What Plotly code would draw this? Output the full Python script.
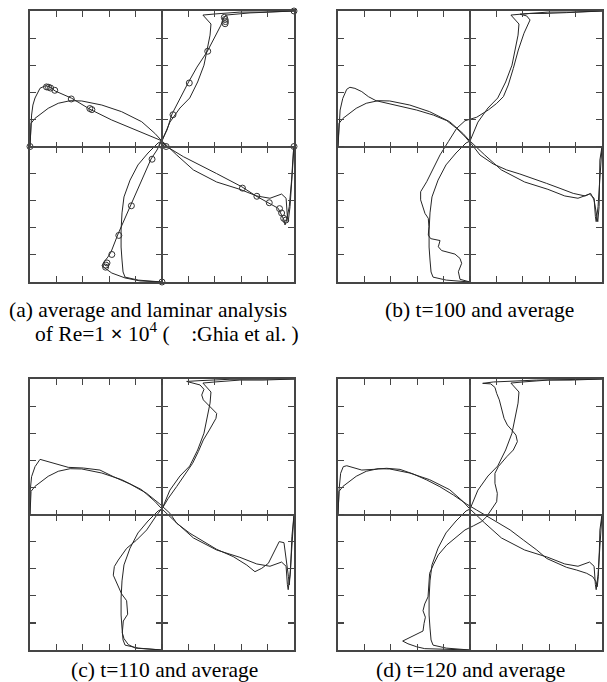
import plotly.graph_objects as go

# ---------------- data ----------------
# Ghia et al. (1982), Re = 10000
ghia_y = [1.0000, 0.9766, 0.9688, 0.9609, 0.9531, 0.8516, 0.7344, 0.6172, 0.5000,
          0.4531, 0.2813, 0.1719, 0.1016, 0.0703, 0.0625, 0.0547, 0.0000]
ghia_u = [1.0, 0.47221, 0.47783, 0.48070, 0.47804, 0.34635, 0.20673, 0.08344, 0.03111,
          -0.07540, -0.23186, -0.32709, -0.38000, -0.41657, -0.42537, -0.42735, 0.0]
ghia_x = [1.0000, 0.9688, 0.9609, 0.9531, 0.9453, 0.9063, 0.8594, 0.8047, 0.5000,
          0.2344, 0.2266, 0.1563, 0.0938, 0.0781, 0.0703, 0.0625, 0.0000]
ghia_v = [0.0, -0.54302, -0.52987, -0.49099, -0.45863, -0.41496, -0.36737, -0.30719, 0.00831,
          0.27224, 0.28003, 0.35070, 0.41487, 0.43124, 0.43733, 0.43983, 0.0]

# laminar analysis (panel a)
lam_u_y = [0, 0.004, 0.015, 0.033, 0.059, 0.074, 0.092, 0.111, 0.177, 0.236, 0.284, 0.358,
           0.454, 0.487, 0.524, 0.561, 0.62, 0.679, 0.734, 0.793, 0.849, 0.904, 0.948, 0.970,
           0.985, 0.993, 1.0]
lam_u = [0, -0.167, -0.28, -0.38, -0.455, -0.44, -0.41, -0.386, -0.333, -0.28, -0.235, -0.167,
         -0.083, -0.038, 0.0, 0.038, 0.076, 0.136, 0.197, 0.265, 0.341, 0.40, 0.447, 0.462,
         0.485, 0.667, 1.0]
lam_v_x = [0, 0.002, 0.006, 0.011, 0.019, 0.038, 0.059, 0.076, 0.095, 0.158, 0.227, 0.309,
           0.398, 0.492, 0.518, 0.581, 0.707, 0.802, 0.856, 0.897, 0.94, 0.953, 0.962, 0.966,
           0.972, 0.982, 0.991, 0.997, 1.0]
lam_v = [0, 0.085, 0.232, 0.306, 0.358, 0.43, 0.449, 0.439, 0.41, 0.356, 0.275, 0.196,
         0.122, 0.048, -0.001, -0.075, -0.2, -0.297, -0.365, -0.407, -0.456, -0.506, -0.542,
         -0.579, -0.542, -0.444, -0.247, -0.05, 0]

# time average (all panels)
avg_u_y = [0, 0.007, 0.018, 0.037, 0.081, 0.129, 0.192, 0.255, 0.314, 0.376, 0.432, 0.476,
           0.513, 0.52, 0.59, 0.642, 0.679, 0.738, 0.80, 0.856, 0.911, 0.952, 0.985, 0.989,
           0.996, 0.996, 1.0]
avg_u = [0, -0.18, -0.28, -0.295, -0.303, -0.31, -0.31, -0.303, -0.288, -0.242, -0.182, -0.106,
         -0.03, 0.0, 0.06, 0.136, 0.21, 0.27, 0.318, 0.34, 0.364, 0.371, 0.31, 0.40,
         0.59, 0.765, 1.0]
avg_v_x = [0, 0.001, 0.004, 0.019, 0.069, 0.107, 0.152, 0.196, 0.272, 0.347, 0.423, 0.473,
           0.496, 0.556, 0.619, 0.707, 0.795, 0.859, 0.909, 0.953, 0.97, 0.975, 0.978, 0.985,
           0.995, 1.0]
avg_v = [0, 0.085, 0.171, 0.208, 0.282, 0.319, 0.338, 0.336, 0.306, 0.257, 0.183, 0.097,
         0.048, -0.063, -0.173, -0.262, -0.316, -0.365, -0.382, -0.351, -0.382, -0.518, -0.555,
         -0.444, -0.149, 0]

# instantaneous t=100
b_u_y = [0, 0.010, 0.038, 0.069, 0.087, 0.103, 0.116, 0.130, 0.153, 0.160, 0.173, 0.204,
         0.235, 0.253, 0.303, 0.333, 0.370, 0.419, 0.469, 0.518, 0.567, 0.595, 0.608, 0.635,
         0.659, 0.684, 0.727, 0.788, 0.856, 0.918, 0.967, 0.982, 0.988, 0.991, 0.991, 0.994, 1.0]
b_u = [0, -0.076, -0.088, -0.063, -0.076, -0.114, -0.215, -0.24, -0.227, -0.298, -0.316, -0.311,
       -0.316, -0.341, -0.374, -0.374, -0.328, -0.278, -0.227, -0.164, -0.101, -0.038, 0.051,
       0.139, 0.202, 0.253, 0.290, 0.328, 0.366, 0.409, 0.455, 0.429, 0.379, 0.455, 0.568,
       0.732, 1.0]
b_v_x = [0, 0.001, 0.004, 0.008, 0.018, 0.033, 0.045, 0.064, 0.090, 0.115, 0.144, 0.184,
         0.235, 0.298, 0.361, 0.412, 0.449, 0.481, 0.513, 0.538, 0.588, 0.639, 0.689, 0.740,
         0.790, 0.841, 0.891, 0.936, 0.957, 0.970, 0.980, 0.984, 0.989, 0.991, 0.992, 1.0]
b_v = [0, 0.048, 0.146, 0.269, 0.355, 0.422, 0.437, 0.429, 0.405, 0.368, 0.338, 0.319,
       0.299, 0.269, 0.232, 0.191, 0.134, 0.073, 0.0, -0.063, -0.129, -0.173, -0.203, -0.235,
       -0.272, -0.309, -0.346, -0.365, -0.346, -0.395, -0.493, -0.555, -0.444, -0.198, -0.1, 0]

# instantaneous t=110
c_u_y = [0, 0.004, 0.007, 0.020, 0.042, 0.063, 0.107, 0.132, 0.182, 0.207, 0.224, 0.276,
         0.308, 0.332, 0.375, 0.406, 0.443, 0.498, 0.529, 0.560, 0.603, 0.646, 0.689, 0.732,
         0.775, 0.812, 0.855, 0.873, 0.888, 0.904, 0.923, 0.941, 0.962, 0.978, 0.986, 0.991,
         0.994, 0.999, 1.0]
c_u = [0, -0.091, -0.202, -0.255, -0.288, -0.301, -0.293, -0.260, -0.268, -0.306, -0.323, -0.369,
       -0.361, -0.331, -0.268, -0.192, -0.116, -0.040, 0.010, 0.048, 0.111, 0.174, 0.232, 0.275,
       0.313, 0.359, 0.409, 0.414, 0.384, 0.351, 0.313, 0.301, 0.318, 0.288, 0.225, 0.187,
       0.288, 0.515, 1.0]
c_v_x = [0, 0.0, 0.001, 0.006, 0.019, 0.038, 0.088, 0.145, 0.202, 0.265, 0.316, 0.379,
         0.442, 0.492, 0.530, 0.556, 0.606, 0.657, 0.707, 0.770, 0.821, 0.852, 0.878, 0.903,
         0.922, 0.944, 0.962, 0.970, 0.979, 0.982, 0.987, 0.992, 0.996, 1.0]
c_v = [0, 0.058, 0.181, 0.279, 0.353, 0.407, 0.378, 0.348, 0.343, 0.328, 0.279, 0.225,
       0.156, 0.077, 0.009, -0.065, -0.139, -0.200, -0.257, -0.311, -0.373, -0.422, -0.397,
       -0.360, -0.286, -0.200, -0.208, -0.311, -0.459, -0.520, -0.409, -0.164, -0.065, 0]

# instantaneous t=120
d_u_y = [0, 0.004, 0.005, 0.012, 0.023, 0.033, 0.049, 0.070, 0.098, 0.121, 0.145, 0.170,
         0.196, 0.246, 0.283, 0.314, 0.351, 0.387, 0.418, 0.443, 0.458, 0.474, 0.492, 0.523,
         0.547, 0.578, 0.615, 0.652, 0.677, 0.713, 0.738, 0.769, 0.793, 0.812, 0.830, 0.855,
         0.892, 0.923, 0.947, 0.969, 0.982, 0.984, 0.989, 0.993, 0.996, 1.0]
d_u = [0, -0.202, -0.343, -0.404, -0.470, -0.510, -0.442, -0.356, -0.348, -0.338, -0.356, -0.343,
       -0.318, -0.313, -0.306, -0.278, -0.240, -0.177, -0.101, -0.038, 0.025, 0.088, 0.126,
       0.172, 0.202, 0.207, 0.189, 0.189, 0.215, 0.278, 0.328, 0.359, 0.348, 0.316, 0.283,
       0.258, 0.240, 0.222, 0.202, 0.189, 0.157, 0.096, 0.177, 0.328, 0.505, 1.0]
d_v_x = [0, 0.001, 0.004, 0.010, 0.020, 0.033, 0.058, 0.090, 0.134, 0.184, 0.235, 0.285,
         0.336, 0.386, 0.437, 0.487, 0.525, 0.557, 0.601, 0.652, 0.702, 0.753, 0.790, 0.828,
         0.866, 0.904, 0.942, 0.965, 0.977, 0.982, 0.986, 0.990, 0.992, 1.0]
d_v = [0, 0.058, 0.181, 0.304, 0.353, 0.360, 0.348, 0.328, 0.333, 0.341, 0.333, 0.299,
       0.255, 0.205, 0.144, 0.077, 0.033, -0.004, -0.053, -0.114, -0.188, -0.262, -0.324,
       -0.360, -0.390, -0.410, -0.434, -0.459, -0.496, -0.533, -0.459, -0.262, -0.115, 0]

u_ticks = [-0.8, -0.6, -0.4, -0.2, 0.2, 0.4, 0.6, 0.8]
y_ticks = [0.1, 0.2, 0.3, 0.4, 0.6, 0.7, 0.8, 0.9]
y_ticks_edge = [0.1, 0.2, 0.3, 0.4, 0.5, 0.6, 0.7, 0.8, 0.9]
u_ticks_edge = [-0.8, -0.6, -0.4, -0.2, 0.0, 0.2, 0.4, 0.6, 0.8]

captions = ["(a) average and laminar analysis",
            "of Re=1 <b>×</b> 10<sup>4</sup> (\u00a0\u00a0\u00a0\u00a0:Ghia et al. )",
            "(b) t=100 and average",
            "(c) t=110 and average",
            "(d) t=120 and average"]

# ---------------- figure ----------------
W, H = 607, 682
panel_px = [(30, 294, 11, 282), (338, 602, 11, 282), (30, 294, 379, 650), (338, 602, 379, 650)]

profiles = [
    [(lam_u, lam_u_y), (avg_u, avg_u_y)],
    [(b_u, b_u_y), (avg_u, avg_u_y)],
    [(c_u, c_u_y), (avg_u, avg_u_y)],
    [(d_u, d_u_y), (avg_u, avg_u_y)],
]
vprofiles = [
    [(lam_v_x, lam_v), (avg_v_x, avg_v)],
    [(b_v_x, b_v), (avg_v_x, avg_v)],
    [(c_v_x, c_v), (avg_v_x, avg_v)],
    [(d_v_x, d_v), (avg_v_x, avg_v)],
]

fig = go.Figure()
LINE = dict(color="#262626", width=1)
EDGE = "#454545"
layout = {}


def name(prefix, i):
    return prefix if i == 1 else f"{prefix}{i}"


for p in range(4):
    x0, x1, ytop, ybot = panel_px[p]
    dx = [x0 / W, x1 / W]
    dy = [1 - ybot / H, 1 - ytop / H]
    b = p * 4
    i1, i2, i3, i4 = b + 1, b + 2, b + 3, b + 4
    common = dict(showgrid=False, zeroline=False, showticklabels=False, fixedrange=True)
    tk = dict(ticklen=6, tickwidth=1.2, tickcolor=EDGE)
    ck = dict(ticklen=5, tickwidth=1.2, tickcolor=EDGE)
    layout[name("xaxis", i1)] = dict(domain=dx, range=[-1, 1], anchor=name("y", i1),
                                     showline=True, linecolor=EDGE, linewidth=1.6, mirror="ticks",
                                     ticks="inside", tickvals=u_ticks_edge, **tk, **common)
    layout[name("yaxis", i1)] = dict(domain=dy, range=[0, 1], anchor=name("x", i1),
                                     showline=True, linecolor=EDGE, linewidth=1.6, mirror="ticks",
                                     ticks="inside", tickvals=y_ticks_edge, **tk, **common)
    layout[name("xaxis", i2)] = dict(domain=dx, range=[0, 1], anchor=name("y", i2),
                                     overlaying=name("x", i1), visible=False, **common)
    layout[name("yaxis", i2)] = dict(domain=dy, range=[-1, 1], anchor=name("x", i2),
                                     overlaying=name("y", i1), visible=False, **common)
    cy = (dy[0] + dy[1]) / 2
    cx = (dx[0] + dx[1]) / 2
    # centre cross: line with ticks below / left ...
    layout[name("xaxis", i3)] = dict(domain=dx, range=[-1, 1], anchor="free", position=cy,
                                     overlaying=name("x", i1), side="bottom", showline=True,
                                     linecolor="#4a4a4a", linewidth=2, ticks="outside",
                                     tickvals=u_ticks, **ck, **common)
    layout[name("yaxis", i3)] = dict(domain=dy, range=[0, 1], anchor="free", position=cx,
                                     overlaying=name("y", i1), side="left", showline=True,
                                     linecolor="#4a4a4a", linewidth=2, ticks="outside",
                                     tickvals=y_ticks, **ck, **common)
    # ... and ticks above / right
    layout[name("xaxis", i4)] = dict(domain=dx, range=[-1, 1], anchor="free", position=cy,
                                     overlaying=name("x", i1), side="top", showline=False,
                                     ticks="outside", tickvals=u_ticks, **ck, **common)
    layout[name("yaxis", i4)] = dict(domain=dy, range=[0, 1], anchor="free", position=cx,
                                     overlaying=name("y", i1), side="right", showline=False,
                                     ticks="outside", tickvals=y_ticks, **ck, **common)

    # placeholder traces so the centre axes are drawn
    for xa, ya in [(i3, i1), (i4, i1), (i1, i3), (i1, i4)]:
        fig.add_trace(go.Scatter(x=[None], y=[None], xaxis=name("x", xa), yaxis=name("y", ya),
                                 mode="lines", showlegend=False, hoverinfo="skip"))

    for uu, yy in profiles[p]:
        fig.add_trace(go.Scatter(x=uu, y=yy, mode="lines", line=LINE, showlegend=False,
                                 xaxis=name("x", i1), yaxis=name("y", i1)))
    for xx, vv in vprofiles[p]:
        fig.add_trace(go.Scatter(x=xx, y=vv, mode="lines", line=LINE, showlegend=False,
                                 xaxis=name("x", i2), yaxis=name("y", i2)))
    if p == 0:
        mk = dict(symbol="circle-open", size=6, color="#333333", line=dict(width=1))
        fig.add_trace(go.Scatter(x=ghia_u, y=ghia_y, mode="markers", marker=mk, showlegend=False,
                                 xaxis="x", yaxis="y", cliponaxis=False))
        fig.add_trace(go.Scatter(x=ghia_x, y=ghia_v, mode="markers", marker=mk, showlegend=False,
                                 xaxis="x2", yaxis="y2", cliponaxis=False))

FONT = dict(family="Liberation Serif, Times New Roman, serif", size=21.5, color="black")
ann = [
    dict(text=captions[0], x=7 / W, y=1 - 310 / H, xanchor="left"),
    dict(text=captions[1], x=33 / W, y=1 - 332 / H, xanchor="left"),
    dict(text=captions[2], x=479 / W, y=1 - 310 / H, xanchor="center"),
    dict(text=captions[3], x=164 / W, y=1 - 670 / H, xanchor="center"),
    dict(text=captions[4], x=471 / W, y=1 - 670 / H, xanchor="center"),
]
annotations = []
for a in ann:
    a.update(xref="paper", yref="paper", yanchor="middle", showarrow=False, font=FONT)
    annotations.append(a)

fig.update_layout(width=W, height=H, margin=dict(l=0, r=0, t=0, b=0),
                  paper_bgcolor="white", plot_bgcolor="white", hovermode=False,
                  annotations=annotations, **layout)
fig.write_html("out.html", config={"displayModeBar": False, "staticPlot": True},
               post_script="document.body.style.margin='0';document.body.style.overflow='hidden';")
